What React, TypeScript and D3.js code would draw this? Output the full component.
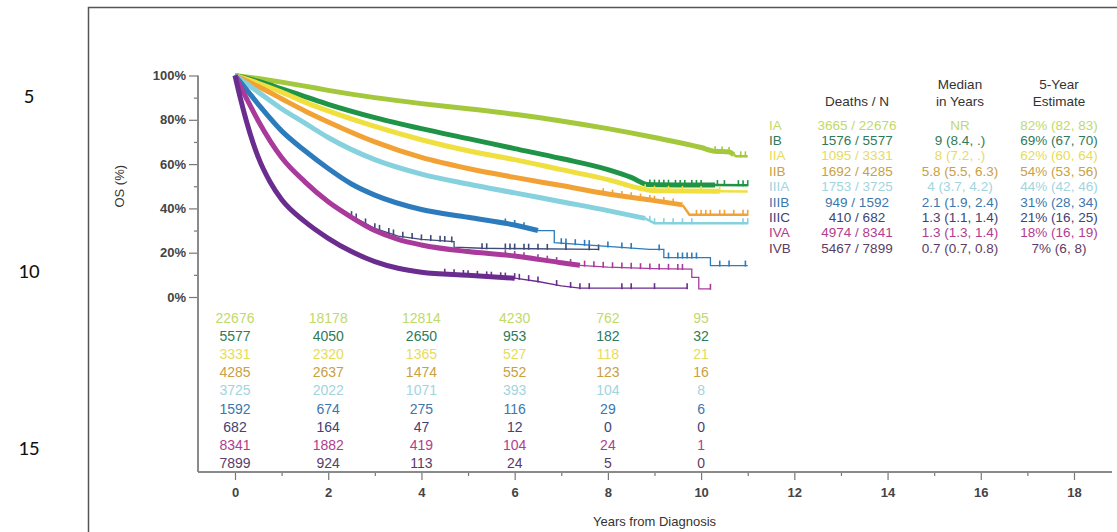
import React, { useEffect, useRef } from "react";
import * as d3 from "d3";

const stages = ["IA", "IB", "IIA", "IIB", "IIIA", "IIIB", "IIIC", "IVA", "IVB"];
const lineColors = ["#a3c83c", "#1f9447", "#efe03f", "#f2a235", "#86d1de", "#2c7bbd", "#3d4a7a", "#a93a9c", "#6a2c8e"];
const textColors = ["#c2d96a", "#2f7a5a", "#e6dc5c", "#c9a043", "#9fd5de", "#3d76ad", "#3f4273", "#b23d8e", "#5b3c66"];

const deathsN = ["3665 / 22676", "1576 / 5577", "1095 / 3331", "1692 / 4285", "1753 / 3725", "949 / 1592", "410 / 682", "4974 / 8341", "5467 / 7899"];
const medianYears = ["NR", "9 (8.4, .)", "8 (7.2, .)", "5.8 (5.5, 6.3)", "4 (3.7, 4.2)", "2.1 (1.9, 2.4)", "1.3 (1.1, 1.4)", "1.3 (1.3, 1.4)", "0.7 (0.7, 0.8)"];
const fiveYear = ["82% (82, 83)", "69% (67, 70)", "62% (60, 64)", "54% (53, 56)", "44% (42, 46)", "31% (28, 34)", "21% (16, 25)", "18% (16, 19)", "7% (6, 8)"];

const riskYears = [0, 2, 4, 6, 8, 10];
const atRisk = [
  [22676, 18178, 12814, 4230, 762, 95],
  [5577, 4050, 2650, 953, 182, 32],
  [3331, 2320, 1365, 527, 118, 21],
  [4285, 2637, 1474, 552, 123, 16],
  [3725, 2022, 1071, 393, 104, 8],
  [1592, 674, 275, 116, 29, 6],
  [682, 164, 47, 12, 0, 0],
  [8341, 1882, 419, 104, 24, 1],
  [7899, 924, 113, 24, 5, 0],
];

// [years, OS %]
const curveIA = [[0, 100], [0.5, 98.6], [1, 97], [1.5, 95.2], [2, 93.3], [3, 90], [4, 87.3], [5, 85], [6, 82.5], [7, 79.5], [8, 76], [9, 72], [10, 67.5], [10.3, 65.8], [10.6, 65.5], [10.75, 63.5], [11, 63.5]];
const curveIB = [[0, 100], [0.5, 97.3], [1, 94], [1.5, 90.5], [2, 87], [3, 81], [4, 76], [5, 71.5], [6, 67], [7, 62.5], [8, 57.5], [8.5, 54], [8.85, 50.8], [9.5, 50.6], [11, 50.5]];
const curveIIA = [[0, 100], [0.5, 96.5], [1, 92.5], [1.5, 88], [2, 84], [3, 77], [4, 71], [5, 66], [6, 62], [7, 57.5], [8, 53], [8.7, 49], [9, 48], [11, 47.6]];
const curveIIB = [[0, 100], [0.5, 95], [1, 89.5], [1.5, 84], [2, 79], [3, 70], [4, 63], [5, 58], [6, 54], [7, 50.3], [8, 46.5], [9, 43.5], [9.6, 41.6], [9.75, 37.1], [11, 37.1]];
const curveIIIA = [[0, 100], [0.5, 92.5], [1, 85], [1.5, 78.5], [2, 72], [3, 62], [4, 55.5], [5, 51], [6, 47], [7, 43], [8, 39], [8.8, 35.5], [9, 33.3], [11, 33.3]];
const curveIIIB = [[0, 100], [0.25, 93.5], [0.5, 87], [1, 75], [1.5, 66], [2, 58], [2.5, 51], [3, 46], [4, 39.5], [5, 36], [6, 32.5], [6.5, 30], [6.85, 30], [6.85, 24.5], [8.9, 21.5], [9.2, 21.5], [9.2, 17.8], [10.2, 17.8], [10.2, 14.2], [11, 14.2]];
const curveIIIC = [[0, 100], [0.25, 89], [0.5, 79], [1, 62.5], [1.5, 52.5], [2, 43.5], [2.5, 36.5], [3, 31], [3.5, 27.5], [4, 26], [4.7, 25], [4.7, 22.5], [5.3, 22], [7.8, 21.5]];
const curveIVA = [[0, 100], [0.25, 89.5], [0.5, 79.5], [1, 63], [1.5, 52], [2, 43], [2.5, 36], [3, 30], [3.5, 26], [4, 23.5], [5, 20.5], [6, 18.5], [7, 15.5], [7.4, 14.3], [8, 13.5], [9, 12.8], [9.8, 12.6], [9.8, 8.9], [9.95, 8.9], [9.95, 3.7], [10.2, 3.7]];
const curveIVB = [[0, 100], [0.1, 91], [0.25, 79], [0.5, 63], [0.75, 52], [1, 44], [1.5, 34], [2, 26.5], [2.5, 20.5], [3, 16], [3.5, 13], [4, 11.2], [5, 9.8], [6, 8.5], [6.5, 7], [7, 5], [7.4, 4], [9.7, 4]];
const curves = [curveIA, curveIB, curveIIA, curveIIB, curveIIIA, curveIIIB, curveIIIC, curveIVA, curveIVB];

// censor marks (years)
const censorIA = [10.3, 10.45, 10.6, 10.85, 10.95];
const censorIB = [8.9, 9.0, 9.1, 9.2, 9.3, 9.45, 9.55, 9.65, 9.8, 9.9, 10.0, 10.35, 10.5, 10.8, 10.9, 11.0];
const censorIIA = [8.8, 9.0, 9.3, 9.6, 10.0, 10.4];
const censorIIB = [7.9, 8.1, 8.3, 8.5, 8.7, 8.9, 9.0, 9.2, 9.4, 9.9, 10.0, 10.1, 10.2, 10.4, 10.5, 10.7, 10.9, 11.0];
const censorIIIA = [8.9, 9.0, 9.2, 9.4, 9.6, 9.8, 10.9, 11.0];
const censorIIIB = [5.8, 6.0, 6.2, 7.0, 7.1, 7.3, 7.5, 7.6, 8.0, 8.3, 8.5, 9.1, 9.3, 9.5, 9.6, 9.7, 9.8, 9.9, 10.4, 10.6, 10.95];
const censorIIIC = [2.5, 2.6, 2.8, 3.0, 3.1, 3.3, 3.4, 3.6, 3.8, 4.0, 4.2, 4.4, 4.5, 4.65, 5.3, 5.4, 5.8, 5.9, 6.0, 6.2, 6.3, 6.5, 6.7, 7.1, 7.6, 7.8];
const censorIVA = [5.8, 6.0, 6.2, 6.5, 6.7, 6.9, 7.2, 7.5, 7.7, 7.9, 8.1, 8.3, 8.5, 8.7, 8.9, 9.1, 9.3, 9.5, 9.6, 10.2];
const censorIVB = [4.5, 4.7, 4.9, 5.0, 5.2, 5.4, 5.5, 5.7, 5.8, 6.0, 6.1, 6.3, 6.5, 6.9, 7.2, 7.4, 7.6, 8.3, 8.5, 9.0, 9.7];
const censors = [censorIA, censorIB, censorIIA, censorIIB, censorIIIA, censorIIIB, censorIIIC, censorIVA, censorIVB];

// where each curve turns from the thick band into a thin line
const thickUntil = [10.7, 10.3, 10.4, 9.6, 8.8, 6.5, 0, 7.4, 6];
const drawOrder = [6, 0, 1, 2, 3, 4, 5, 7, 8];

const FONT = "'Liberation Sans', Arial, Helvetica, sans-serif";

const valueAt = (pts, t) => {
  let i = 0;
  for (let k = 0; k < pts.length; k++) if (pts[k][0] <= t) i = k;
  const a = pts[i];
  const b = pts[i + 1];
  if (!b || b[0] === a[0]) return a[1];
  return a[1] + (b[1] - a[1]) * (t - a[0]) / (b[0] - a[0]);
};

const App = () => {
  const ref = useRef(null);

  useEffect(() => {
    const svg = d3.select(ref.current);
    svg.selectAll("*").remove();

    const x = d3.scaleLinear().domain([0, 18]).range([235, 1074]);
    const y = d3.scaleLinear().domain([0, 100]).range([297, 75.5]);
    const yRisk = d3.scalePoint().domain(stages).range([318, 463]);
    const yLeg = d3.scalePoint().domain(stages).range([125, 248]);

    // page frame + line numbers
    svg.append("path")
      .attr("d", "M88.5,532V7.5H1117")
      .attr("fill", "none")
      .attr("stroke", "#555")
      .attr("stroke-width", 1.5);

    svg.selectAll("text.lineno")
      .data([["5", 103], ["10", 278], ["15", 455]])
      .enter().append("text")
        .attr("class", "lineno")
        .attr("x", 29)
        .attr("y", d => d[1])
        .attr("text-anchor", "middle")
        .attr("font-family", "Carlito, 'Open Sans', 'Liberation Sans', sans-serif")
        .attr("font-size", 21)
        .attr("fill", "#111")
        .text(d => d[0]);

    // y axis
    const yAxisG = svg.append("g")
      .attr("transform", "translate(198,0)")
      .call(d3.axisLeft(y)
        .tickValues(d3.range(0, 101, 10))
        .tickSize(9)
        .tickFormat(d => (d % 20 === 0 ? d + "%" : "")));
    yAxisG.select(".domain").remove();
    yAxisG.selectAll(".tick line")
      .attr("x2", d => (d % 20 === 0 ? -9 : -4))
      .attr("stroke", "#777")
      .attr("stroke-width", 1.2);
    yAxisG.selectAll(".tick text")
      .attr("x", -12)
      .attr("font-family", FONT)
      .attr("font-size", 13)
      .attr("font-weight", "bold")
      .attr("fill", "#444");

    svg.append("line")
      .attr("x1", 198).attr("x2", 198)
      .attr("y1", y(100)).attr("y2", 472)
      .attr("stroke", "#8a8a8a").attr("stroke-width", 2);

    svg.append("text")
      .attr("transform", `translate(124,${y(50)}) rotate(-90)`)
      .attr("text-anchor", "middle")
      .attr("font-family", FONT)
      .attr("font-size", 13)
      .attr("fill", "#333")
      .text("OS (%)");

    // x axis
    const xAxisG = svg.append("g")
      .attr("transform", "translate(0,472)")
      .call(d3.axisBottom(x)
        .tickValues(d3.range(0, 19, 1))
        .tickSize(8)
        .tickFormat(d => (d % 2 === 0 ? d : "")));
    xAxisG.select(".domain").remove();
    xAxisG.selectAll(".tick line")
      .attr("y2", d => (d % 2 === 0 ? 8 : 4))
      .attr("stroke", "#777")
      .attr("stroke-width", 1.2);
    xAxisG.selectAll(".tick text")
      .attr("y", 16)
      .attr("font-family", FONT)
      .attr("font-size", 13)
      .attr("font-weight", "bold")
      .attr("fill", "#444");

    svg.append("line")
      .attr("x1", 198).attr("x2", 1112)
      .attr("y1", 472).attr("y2", 472)
      .attr("stroke", "#8a8a8a").attr("stroke-width", 2);

    svg.append("text")
      .attr("x", x(9))
      .attr("y", 526)
      .attr("text-anchor", "middle")
      .attr("font-family", FONT)
      .attr("font-size", 13)
      .attr("fill", "#333")
      .text("Years from Diagnosis");

    // survival curves: smooth thick band, then a thin stepped tail
    const smooth = d3.line().curve(d3.curveMonotoneX).x(d => x(d[0])).y(d => y(d[1]));
    const line = d3.line().x(d => x(d[0])).y(d => y(d[1]));
    const plot = svg.append("g");

    drawOrder.forEach(i => {
      const pts = curves[i];
      const cut = thickUntil[i];
      const cutPt = [cut, valueAt(pts, cut)];
      const thick = pts.filter(p => p[0] < cut).concat([cutPt]);
      const thin = [cutPt].concat(pts.filter(p => p[0] > cut));

      const g = plot.append("g");
      if (thin.length > 1) {
        g.append("path")
          .attr("d", line(thin))
          .attr("fill", "none")
          .attr("stroke", lineColors[i])
          .attr("stroke-width", i >= 5 ? 1.3 : 2.5);
      }
      if (thick.length > 1) {
        g.append("path")
          .attr("d", smooth(thick))
          .attr("fill", "none")
          .attr("stroke", lineColors[i])
          .attr("stroke-width", 5)
          .attr("stroke-linejoin", "round");
      }

      g.selectAll("line.censor")
        .data(censors[i])
        .enter().append("line")
          .attr("class", "censor")
          .attr("x1", t => x(t)).attr("x2", t => x(t))
          .attr("y1", t => y(valueAt(pts, t)) - 5)
          .attr("y2", t => y(valueAt(pts, t)) + 1)
          .attr("stroke", lineColors[i])
          .attr("stroke-width", 1.6);
    });

    // numbers at risk
    stages.forEach((s, i) => {
      svg.append("g").selectAll("text")
        .data(atRisk[i])
        .enter().append("text")
          .attr("x", (d, j) => x(riskYears[j]))
          .attr("y", yRisk(s))
          .attr("dy", "0.35em")
          .attr("text-anchor", "middle")
          .attr("font-family", FONT)
          .attr("font-size", 14)
          .attr("fill", textColors[i])
          .text(d => d);
    });

    // legend table
    const leg = svg.append("g")
      .attr("font-family", FONT)
      .attr("font-size", 13.5);

    const headers = [
      [857, 106, "Deaths / N"],
      [960, 89, "Median"],
      [960, 106, "in Years"],
      [1059, 89, "5-Year"],
      [1059, 106, "Estimate"],
    ];
    leg.selectAll("text.hdr")
      .data(headers)
      .enter().append("text")
        .attr("class", "hdr")
        .attr("x", d => d[0])
        .attr("y", d => d[1])
        .attr("text-anchor", "middle")
        .attr("fill", "#333")
        .text(d => d[2]);

    const cols = [
      { x: 769, anchor: "start", vals: stages },
      { x: 857, anchor: "middle", vals: deathsN },
      { x: 960, anchor: "middle", vals: medianYears },
      { x: 1059, anchor: "middle", vals: fiveYear },
    ];
    cols.forEach(c => {
      leg.append("g").selectAll("text")
        .data(c.vals)
        .enter().append("text")
          .attr("x", c.x)
          .attr("y", (d, i) => yLeg(stages[i]))
          .attr("dy", "0.35em")
          .attr("text-anchor", c.anchor)
          .attr("fill", (d, i) => textColors[i])
          .text(d => d);
    });
  }, []);

  return (
    <svg
      ref={ref}
      width={1117}
      height={532}
      style={{ position: "absolute", left: 0, top: 0, background: "#fff" }}
    />
  );
};

export default App;
